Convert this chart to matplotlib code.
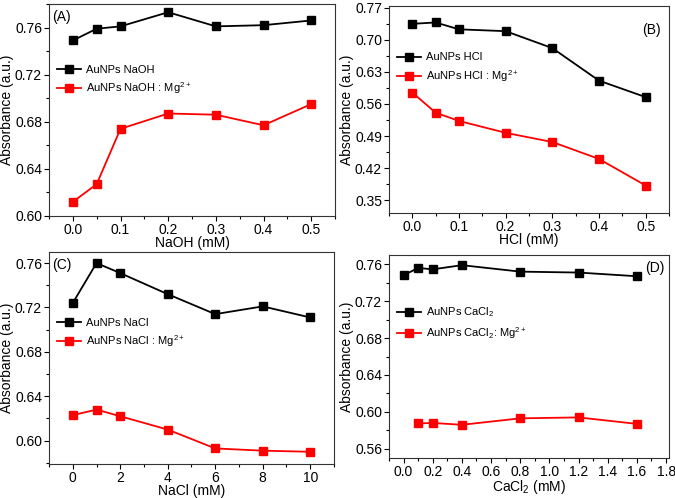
import numpy as np
import matplotlib
matplotlib.use('Agg')
import matplotlib.pyplot as plt
from matplotlib.ticker import MultipleLocator, FormatStrFormatter

plt.rcParams['font.family'] = ['Liberation Sans', 'DejaVu Sans']
plt.rcParams['mathtext.fontset'] = 'custom'
plt.rcParams['mathtext.rm'] = 'Liberation Sans'
plt.rcParams['mathtext.it'] = 'Liberation Sans'

# panel A: NaOH
naoh_x = [0.0, 0.05, 0.1, 0.2, 0.3, 0.4, 0.5]
naoh_au = [0.749, 0.759, 0.761, 0.773, 0.761, 0.762, 0.766]
naoh_mg = [0.612, 0.627, 0.674, 0.687, 0.686, 0.677, 0.695]

# panel B: HCl
hcl_x = [0.0, 0.05, 0.1, 0.2, 0.3, 0.4, 0.5]
hcl_au = [0.735, 0.738, 0.723, 0.719, 0.682, 0.611, 0.575]
hcl_mg = [0.585, 0.541, 0.523, 0.497, 0.477, 0.440, 0.382]

# panel C: NaCl
nacl_x = [0, 1, 2, 4, 6, 8, 10]
nacl_au = [0.724, 0.760, 0.751, 0.732, 0.714, 0.721, 0.711]
nacl_mg = [0.623, 0.628, 0.622, 0.610, 0.593, 0.591, 0.590]

# panel D: CaCl2
cacl_x = [0.0, 0.1, 0.2, 0.4, 0.8, 1.2, 1.6]
cacl_au = [0.748, 0.756, 0.7545, 0.759, 0.752, 0.751, 0.747]
cacl_mg_x = [0.1, 0.2, 0.4, 0.8, 1.2, 1.6]
cacl_mg = [0.5875, 0.588, 0.586, 0.593, 0.594, 0.587]

fig = plt.figure(figsize=(6.75, 4.98), dpi=100)

panels = [
    dict(rect=[0.0726, 0.5663, 0.4237, 0.4257], x=naoh_x, au=naoh_au, mx=naoh_x, mg=naoh_mg,
         xlabel='NaOH (mM)', lab1='AuNPs NaOH', lab2='AuNPs NaOH : Mg$^{2+}$',
         xlim=(-0.05, 0.55), ylim=(0.60, 0.780), xmaj=0.1, ymaj=0.04, xfmt='%.1f', yfmt='%.2f',
         tag='(A)', tagpos=(0.01, 0.97), tagha='left', legy=0.64),
    dict(rect=[0.5763, 0.5723, 0.4148, 0.4157], x=hcl_x, au=hcl_au, mx=hcl_x, mg=hcl_mg,
         xlabel='HCl (mM)', lab1='AuNPs HCl', lab2='AuNPs HCl : Mg$^{2+}$',
         xlim=(-0.05, 0.55), ylim=(0.322, 0.774), xmaj=0.1, ymaj=0.07, xfmt='%.1f', yfmt='%.2f',
         tag='(B)', tagpos=(0.97, 0.92), tagha='right', legy=0.70),
    dict(rect=[0.0726, 0.0683, 0.4222, 0.4257], x=nacl_x, au=nacl_au, mx=nacl_x, mg=nacl_mg,
         xlabel='NaCl (mM)', lab1='AuNPs NaCl', lab2='AuNPs NaCl : Mg$^{2+}$',
         xlim=(-1, 11), ylim=(0.579, 0.770), xmaj=2, ymaj=0.04, xfmt='%d', yfmt='%.2f',
         tag='(C)', tagpos=(0.01, 0.97), tagha='left', legy=0.615),
    dict(rect=[0.5763, 0.0803, 0.4148, 0.4076], x=cacl_x, au=cacl_au, mx=cacl_mg_x, mg=cacl_mg,
         xlabel='CaCl$_2$ (mM)', lab1='AuNPs CaCl$_2$', lab2='AuNPs CaCl$_2$: Mg$^{2+}$',
         xlim=(-0.1, 1.82), ylim=(0.550, 0.770), xmaj=0.2, ymaj=0.04, xfmt='%.1f', yfmt='%.2f',
         tag='(D)', tagpos=(0.985, 0.97), tagha='right', legy=0.665),
]

for p in panels:
    ax = fig.add_axes(p['rect'])
    ax.plot(p['x'], p['au'], '-s', color='black', lw=1.3, ms=5.5, label=p['lab1'])
    ax.plot(p['mx'], p['mg'], '-s', color='#ff0000', lw=1.3, ms=5.5, label=p['lab2'])
    ax.set_xlim(*p['xlim'])
    ax.set_ylim(*p['ylim'])
    ax.xaxis.set_major_locator(MultipleLocator(p['xmaj']))
    ax.xaxis.set_minor_locator(MultipleLocator(p['xmaj'] / 2))
    ax.yaxis.set_major_locator(MultipleLocator(p['ymaj']))
    ax.yaxis.set_minor_locator(MultipleLocator(p['ymaj'] / 2))
    ax.xaxis.set_major_formatter(FormatStrFormatter(p['xfmt']))
    ax.yaxis.set_major_formatter(FormatStrFormatter(p['yfmt']))
    ax.tick_params(which='major', direction='out', length=3.5, width=0.8, labelsize=10, pad=1.5)
    ax.tick_params(which='minor', direction='out', length=2.2, width=0.8)
    for s in ax.spines.values():
        s.set_linewidth(0.8)
        s.set_color('#333333')
    ax.set_xlabel(p['xlabel'], fontsize=10, labelpad=-0.5)
    ax.set_ylabel('Absorbance (a.u.)', fontsize=10, labelpad=1)
    ax.text(p['tagpos'][0], p['tagpos'][1], p['tag'], transform=ax.transAxes,
            ha=p['tagha'], va='top', fontsize=10)
    ax.legend(loc='center left', bbox_to_anchor=(0.0, p['legy']), frameon=False,
              fontsize=8, handlelength=2.2, labelspacing=0.5, handletextpad=0.4,
              borderaxespad=0.3)

fig.savefig('out.png', dpi=100)
